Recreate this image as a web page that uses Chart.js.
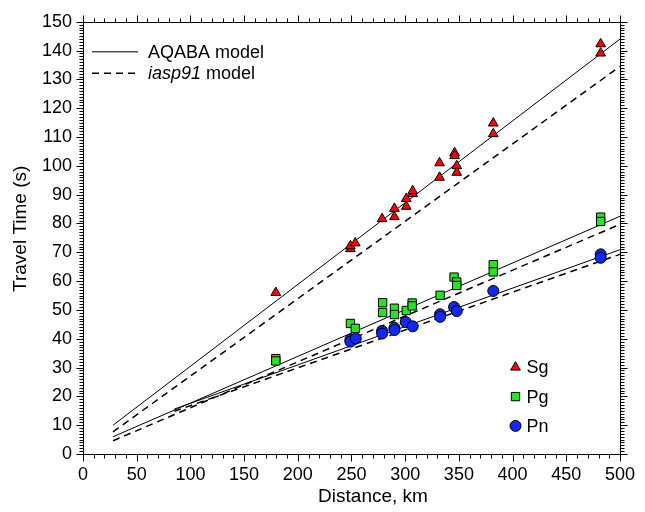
<!DOCTYPE html>
<html lang="en">
<head>
    <meta charset="UTF-8">
    <title>Travel Time vs Distance</title>
    <script src="https://cdn.jsdelivr.net/npm/chart.js"></script>
    <style>
        html, body { margin: 0; padding: 0; background: #fff; }
        #wrap { width: 645px; height: 512px; }
    </style>
</head>
<body>
    <div id="wrap"><canvas id="ttChart" width="645" height="512"></canvas></div>

    <script>
        // Picked phases (distance km, travel time s)
        const sgDist = [179.5, 249, 249, 253.5, 278.5, 290, 290, 301, 301, 307, 307, 332, 332, 346, 346, 348, 348, 382, 382, 482, 482];
        const sgTime = [56, 71.2, 72.2, 73.2, 81.6, 85.2, 82.3, 85.9, 88.6, 90.3, 91.3, 101, 96, 104.5, 103.5, 100, 97.7, 114.8, 111.1, 142.3, 139.1];

        const pgDist = [179.5, 179.5, 249, 253.5, 279, 279, 290, 290, 301, 306.5, 306.5, 332.5, 345.5, 348, 348, 382, 382, 482, 482];
        const pgTime = [33.1, 32.3, 45.3, 43.6, 52.5, 49.1, 50.6, 48.4, 49.8, 52.4, 51.4, 55.1, 61.4, 59.7, 58.5, 65.7, 63.2, 82.2, 80.7];

        const pnDist = [249, 249, 254, 278.5, 278.5, 290, 290, 300.5, 307, 332.5, 332.5, 345.5, 348, 382, 482, 482];
        const pnTime = [39.7, 39.0, 40.1, 42.7, 41.8, 43.8, 43.0, 45.8, 44.3, 48.5, 47.6, 51.0, 49.6, 56.6, 69.3, 68.1];

        // Model travel-time curves (end points)
        const aqabaSg = { x: [28, 500], t: [10.0, 144.0] };
        const iaspSg  = { x: [28, 500], t: [7.7, 134.5] };
        const aqabaPg = { x: [28, 500], t: [6.0, 82.5] };
        const iaspPg  = { x: [28, 500], t: [4.6, 79.7] };
        const aqabaPn = { x: [85, 500], t: [15.6, 70.9] };
        const iaspPn  = { x: [85, 500], t: [14.8, 69.3] };

        const xMin = 0, xMax = 500, xStep = 50, xMinor = 10;
        const yMin = 0, yMax = 150, yStep = 10, yMinor = 1;
        const xTitle = 'Distance, km';
        const yTitle = 'Travel Time (s)';

        const toXY = (xs, ys) => xs.map((v, i) => ({ x: v, y: ys[i] }));

        const FONT = "'Liberation Sans', Arial, Helvetica, sans-serif";
        Chart.defaults.font.family = FONT;
        Chart.defaults.color = '#000';

        const solid = { borderColor: '#000', borderWidth: 1, pointRadius: 0, showLine: true, fill: false, order: 2 };
        const dashed = { borderColor: '#000', borderWidth: 1.5, borderDash: [7, 5], pointRadius: 0, showLine: true, fill: false, order: 2 };

        const sgStyle = { pointStyle: 'triangle', radius: 5.6, backgroundColor: '#ff0000', borderColor: '#000', borderWidth: 1 };
        const pgStyle = { pointStyle: 'rect', radius: 5.9, backgroundColor: '#22e622', borderColor: '#000', borderWidth: 1 };
        const pnStyle = { pointStyle: 'circle', radius: 5.5, backgroundColor: '#1028f0', borderColor: '#000', borderWidth: 1 };

        function markerSet(label, xs, ys, st) {
            return {
                label: label,
                data: toXY(xs, ys),
                showLine: false,
                pointStyle: st.pointStyle,
                pointRadius: st.radius,
                pointBackgroundColor: st.backgroundColor,
                pointBorderColor: st.borderColor,
                pointBorderWidth: st.borderWidth,
                order: 1
            };
        }

        // frame, minor ticks, axis titles and the two in-plot legends
        const decorations = {
            id: 'decorations',
            afterDatasetsDraw(chart) {
                const { ctx, chartArea: a, scales: { x, y } } = chart;
                const L = Math.round(a.left) + 0.5, R = Math.round(a.right) + 0.5;
                const T = Math.round(a.top) + 0.5, B = Math.round(a.bottom) + 0.5;
                ctx.save();
                ctx.strokeStyle = '#000';
                ctx.lineWidth = 1;
                ctx.beginPath();
                ctx.rect(L, T, R - L, B - T);
                for (let v = xMin; v <= xMax; v += xMinor) {
                    const px = Math.round(x.getPixelForValue(v)) + 0.5;
                    const len = v % xStep === 0 ? 7 : 4;
                    ctx.moveTo(px, B); ctx.lineTo(px, B + len);
                    ctx.moveTo(px, T); ctx.lineTo(px, T - len);
                }
                for (let v = yMin; v <= yMax; v += yMinor) {
                    const py = Math.round(y.getPixelForValue(v)) + 0.5;
                    const len = v % yStep === 0 ? 7 : 4;
                    ctx.moveTo(L, py); ctx.lineTo(L - len, py);
                    ctx.moveTo(R, py); ctx.lineTo(R + len, py);
                }
                ctx.stroke();

                // axis titles
                ctx.fillStyle = '#000';
                ctx.font = '19px ' + FONT;
                ctx.textAlign = 'center';
                ctx.textBaseline = 'middle';
                ctx.fillText(xTitle, a.left + 290, 497);
                ctx.save();
                ctx.translate(21, a.top + 207);
                ctx.rotate(-Math.PI / 2);
                ctx.fillText(yTitle, 0, 0);
                ctx.restore();
                ctx.textAlign = 'left';

                // model legend (top left)
                ctx.font = '18px ' + FONT;
                const lx0 = a.left + 9, lx1 = a.left + 55;
                const ly1 = a.top + 30, ly2 = a.top + 51.5;
                ctx.beginPath();
                ctx.lineWidth = 1;
                ctx.moveTo(lx0, ly1); ctx.lineTo(lx1, ly1);
                ctx.stroke();
                ctx.beginPath();
                ctx.lineWidth = 1.5;
                ctx.setLineDash([7, 5]);
                ctx.moveTo(lx0, ly2); ctx.lineTo(lx1, ly2);
                ctx.stroke();
                ctx.setLineDash([]);
                ctx.fillText('AQABA model', a.left + 65, ly1 + 1);
                ctx.font = 'italic 18px ' + FONT;
                ctx.fillText('iasp91', a.left + 65, ly2 + 1);
                const w = ctx.measureText('iasp91').width;
                ctx.font = '18px ' + FONT;
                ctx.fillText(' model', a.left + 65 + w, ly2 + 1);

                // phase legend (bottom right)
                const items = [['Sg', sgStyle], ['Pg', pgStyle], ['Pn', pnStyle]];
                const mx = a.left + 432.5;
                items.forEach((it, i) => {
                    const my = a.top + 345.5 + i * 29.3;
                    const st = it[1];
                    ctx.fillStyle = st.backgroundColor;
                    ctx.strokeStyle = st.borderColor;
                    ctx.lineWidth = st.borderWidth;
                    Chart.helpers.drawPoint(ctx, { pointStyle: st.pointStyle, radius: st.radius, borderWidth: st.borderWidth, rotation: 0 }, mx, my);
                    ctx.fillStyle = '#000';
                    ctx.fillText(it[0], mx + 11, my + 1);
                });
                ctx.restore();
            }
        };

        const ctx = document.getElementById('ttChart').getContext('2d');
        const chart = new Chart(ctx, {
            type: 'scatter',
            data: {
                datasets: [
                    Object.assign({ label: 'AQABA Sg', data: toXY(aqabaSg.x, aqabaSg.t) }, solid),
                    Object.assign({ label: 'iasp91 Sg', data: toXY(iaspSg.x, iaspSg.t) }, dashed),
                    Object.assign({ label: 'AQABA Pg', data: toXY(aqabaPg.x, aqabaPg.t) }, solid),
                    Object.assign({ label: 'iasp91 Pg', data: toXY(iaspPg.x, iaspPg.t) }, dashed),
                    Object.assign({ label: 'AQABA Pn', data: toXY(aqabaPn.x, aqabaPn.t) }, solid),
                    Object.assign({ label: 'iasp91 Pn', data: toXY(iaspPn.x, iaspPn.t) }, dashed),
                    markerSet('Sg', sgDist, sgTime, sgStyle),
                    markerSet('Pg', pgDist, pgTime, pgStyle),
                    markerSet('Pn', pnDist, pnTime, pnStyle)
                ]
            },
            options: {
                responsive: false,
                animation: false,
                layout: { padding: { top: 21, right: 22, left: 0, bottom: 0 } },
                plugins: { legend: { display: false }, tooltip: { enabled: false } },
                scales: {
                    x: {
                        type: 'linear',
                        position: 'bottom',
                        min: xMin, max: xMax,
                        ticks: { stepSize: xStep, font: { size: 18 }, color: '#000', padding: 10, maxRotation: 0, autoSkip: false },
                        grid: { display: false, drawTicks: false },
                        border: { display: true, color: '#000', width: 1 },
                        afterFit: s => { s.height = 58; }
                    },
                    y: {
                        type: 'linear',
                        position: 'left',
                        min: yMin, max: yMax,
                        ticks: { stepSize: yStep, font: { size: 18 }, color: '#000', padding: 11, autoSkip: false },
                        grid: { display: false, drawTicks: false },
                        border: { display: true, color: '#000', width: 1 },
                        afterFit: s => { s.width = 83; }
                    }
                }
            },
            plugins: [decorations]
        });
    </script>
</body>
</html>
